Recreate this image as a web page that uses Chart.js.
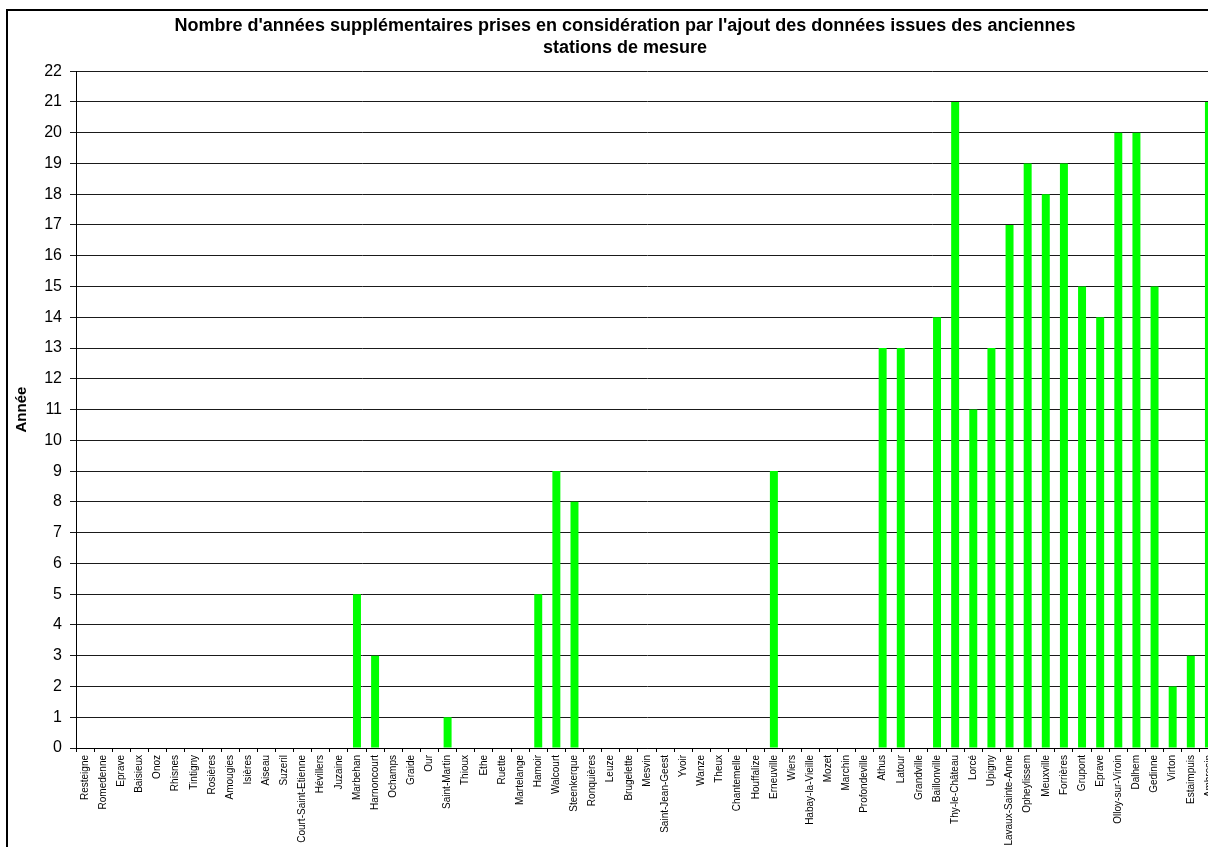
<!DOCTYPE html>
<html>
<head>
<meta charset="utf-8">
<script src="https://cdn.jsdelivr.net/npm/chart.js@4/dist/chart.umd.min.js"></script>
<style>
  html, body { margin: 0; padding: 0; background: #fff; overflow: hidden; }
  #frame {
    position: absolute; left: 6px; top: 9px;
    border-left: 2px solid #000; border-top: 2px solid #000;
    width: 1234px; height: 836px;
  }
</style>
</head>
<body>
<div id="frame"><canvas id="stationsChart" width="1234" height="836"></canvas></div>
<script>
let stations = ['Resteigne', 'Romedenne', 'Eprave', 'Baisieux', 'Onoz', 'Rhisnes', 'Tintigny', 'Rosières',
  'Amougies', 'Isières', 'Aiseau', 'Suzeril', 'Court-Saint-Etienne', 'Hévillers', 'Juzaine', 'Marbehan',
  'Harnoncourt', 'Ochamps', 'Graide', 'Our', 'Saint-Martin', 'Thioux', 'Ethe', 'Ruette', 'Martelange',
  'Hamoir', 'Walcourt', 'Steenkerque', 'Ronquières', 'Leuze', 'Brugelette', 'Mesvin', 'Saint-Jean-Geest',
  'Yvoir', 'Wanze', 'Theux', 'Chantemelle', 'Houffalize', 'Erneuville', 'Wiers', 'Habay-la-Vieille',
  'Mozet', 'Marchin', 'Profondeville', 'Athus', 'Latour', 'Grandville', 'Baillonville', 'Thy-le-Château',
  'Lorcé', 'Upigny', 'Lavaux-Sainte-Anne', 'Opheylissem', 'Meuxville', 'Forrières', 'Grupont', 'Eprave',
  'Olloy-sur-Viroin', 'Dalhem', 'Gedinne', 'Virton', 'Estaimpuis', 'Ambresin'];

let extraYears = [0, 0, 0, 0, 0, 0, 0, 0,
  0, 0, 0, 0, 0, 0, 0, 5,
  3, 0, 0, 0, 1, 0, 0, 0, 0,
  5, 9, 8, 0, 0, 0, 0, 0,
  0, 0, 0, 0, 0, 9, 0, 0,
  0, 0, 0, 13, 13, 0, 14, 21,
  11, 13, 17, 19, 18, 19, 15, 14,
  20, 20, 15, 2, 3, 21];

let chartTitle = ["Nombre d'années supplémentaires prises en considération par l'ajout des données issues des anciennes",
  'stations de mesure'];

let ctx = document.getElementById('stationsChart').getContext('2d');
let stationsChart = new Chart(ctx, {
  type: 'bar',
  data: {
    labels: stations,
    datasets: [{
      data: extraYears,
      backgroundColor: '#00ff00',
      borderWidth: 0,
      barPercentage: 0.44,
      categoryPercentage: 1,
    }]
  },
  options: {
    responsive: false,
    animation: false,
    layout: {
      // same padding on both sides so the title stays centred on the whole frame
      padding: { left: 24, right: 24, top: 0, bottom: 0 }
    },
    plugins: {
      legend: { display: false },
      tooltip: { enabled: false },
      title: {
        display: true,
        text: chartTitle,
        color: '#000',
        font: { family: 'Liberation Sans, Arial', size: 18, weight: 'bold', lineHeight: 1.17 },
        padding: { top: 5, bottom: 13 },
      },
    },
    scales: {
      x: {
        grid: {
          display: true,
          offset: true,
          drawOnChartArea: false,
          drawTicks: true,
          tickLength: 4,
          color: '#000',
        },
        border: { color: '#000', width: 1 },
        ticks: {
          autoSkip: false,
          maxRotation: 90,
          minRotation: 90,
          padding: 3,
          color: '#000',
          font: { family: 'Liberation Sans, Arial', size: 10 },
        },
        afterFit: function (scale) { scale.height = 99; },
      },
      y: {
        min: 0,
        max: 22,
        grid: {
          color: '#1a1a1a',
          tickLength: 6,
        },
        border: { color: '#000', width: 1 },
        ticks: {
          stepSize: 1,
          padding: 8,
          color: '#000',
          font: { family: 'Liberation Sans, Arial', size: 16 },
        },
        title: {
          display: true,
          text: 'Année',
          color: '#000',
          font: { family: 'Liberation Sans, Arial', size: 15, weight: 'bold' },
          padding: { top: -19, bottom: 0 },
        },
        afterFit: function (scale) { scale.width = 44; },
      },
    },
  }
});
</script>
</body>
</html>
